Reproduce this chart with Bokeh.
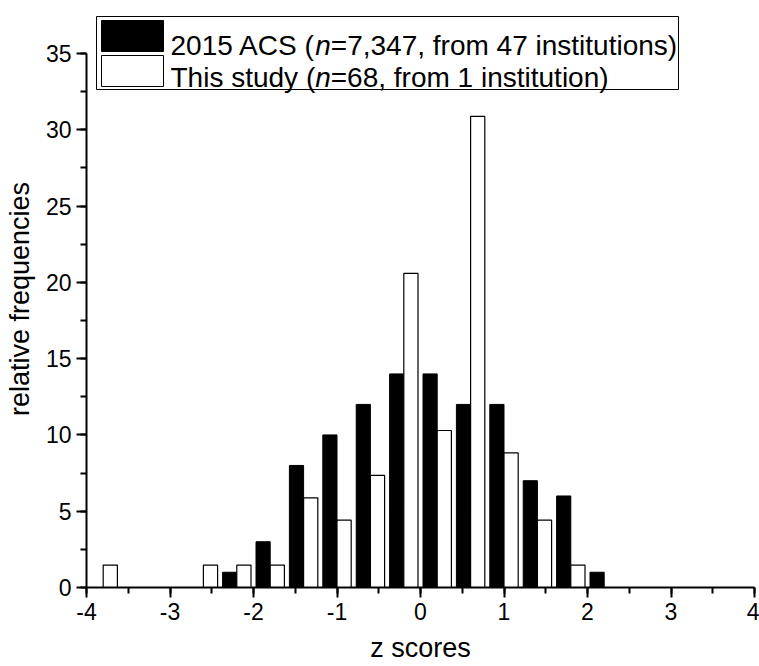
from bokeh.plotting import figure
from bokeh.models import (ColumnDataSource, Range1d, SingleIntervalTicker,
                          Label, BoxAnnotation, CustomJSTickFormatter)
from bokeh.transform import dodge
from bokeh.embed import file_html
from bokeh.resources import INLINE

# ---- data ----
acs_centers = [-2.2, -1.8, -1.4, -1.0, -0.6, -0.2, 0.2, 0.6, 1.0, 1.4, 1.8, 2.2]
acs_freq = [1, 3, 8, 10, 12, 14, 14, 12, 12, 7, 6, 1]
study_centers = [-3.8, -2.6, -2.2, -1.8, -1.4, -1.0, -0.6, -0.2, 0.2, 0.6, 1.0, 1.4, 1.8]
study_freq = [1.47, 1.47, 1.47, 1.47, 5.88, 4.41, 7.35, 20.59, 10.29, 30.88, 8.82, 4.41, 1.47]
acs_label = ["2015 ACS (", "n", "=7,347, from 47 institutions)"]
study_label = ["This study (", "n", "=68, from 1 institution)"]
x_title = "z scores"
y_title = "relative frequencies"

FONT = "Liberation Sans"

p = figure(width=759, height=666, output_backend="svg", toolbar_location=None,
           x_range=Range1d(-4, 4), y_range=Range1d(0, 37.82),
           min_border_left=86, min_border_right=5, min_border_top=10,
           min_border_bottom=79)
p.outline_line_color = None
p.xgrid.visible = False
p.ygrid.visible = False
p.background_fill_color = "white"
p.border_fill_color = "white"

src_acs = ColumnDataSource(dict(x=acs_centers, top=acs_freq))
src_study = ColumnDataSource(dict(x=study_centers, top=study_freq))

bw = 0.17
p.vbar(x=dodge("x", -bw / 2, range=p.x_range), top="top", width=bw, bottom=0,
       source=src_acs, fill_color="black", line_color="black", line_width=1)
p.vbar(x=dodge("x", bw / 2, range=p.x_range), top="top", width=bw, bottom=0,
       source=src_study, fill_color="white", line_color="black", line_width=1.2)

# ---- axes ----
p.xaxis.ticker = SingleIntervalTicker(interval=1, num_minor_ticks=2)
p.yaxis.ticker = SingleIntervalTicker(interval=5, num_minor_ticks=2)
p.xaxis.formatter = CustomJSTickFormatter(code="return String(tick);")
p.xaxis.bounds = (-4, 4)
p.yaxis.bounds = (0, 35)
p.xaxis.axis_label = x_title
p.yaxis.axis_label = y_title
for ax in (p.xaxis, p.yaxis):
    ax.axis_line_width = 2
    ax.axis_line_color = "black"
    ax.major_tick_line_width = 2
    ax.minor_tick_line_width = 2
    ax.major_tick_line_color = "black"
    ax.minor_tick_line_color = "black"
    ax.major_tick_out = 10
    ax.major_tick_in = 0
    ax.minor_tick_out = 6
    ax.minor_tick_in = 0
    ax.major_label_text_font = FONT
    ax.major_label_text_font_size = "23px"
    ax.major_label_text_color = "black"
    ax.axis_label_text_font = FONT
    ax.axis_label_text_font_size = "27px"
    ax.axis_label_text_font_style = "normal"
    ax.axis_label_text_color = "black"
p.xaxis.major_label_standoff = 5
p.yaxis.major_label_standoff = 5
p.xaxis.axis_label_standoff = 10
p.yaxis.axis_label_standoff = 8

# ---- legend drawn by hand (to allow the italic n) ----
CW = {"0": 556, "1": 556, "2": 556, "3": 556, "4": 556, "5": 556, "6": 556,
      "7": 556, "8": 556, "9": 556, " ": 278, "A": 667, "C": 722, "S": 667,
      "T": 611, "(": 333, ")": 333, "=": 584, ",": 278, "f": 278, "r": 333,
      "o": 556, "m": 833, "i": 222, "n": 556, "s": 500, "t": 278, "u": 556,
      "h": 556, "d": 556, "y": 500}
LS = 28


def tw(s):
    return sum(CW.get(c, 556) for c in s) * LS / 1000.0


def sbox(l, r, t, b, fill):
    return BoxAnnotation(left=l, right=r, top=t, bottom=b,
                         left_units="screen", right_units="screen",
                         top_units="screen", bottom_units="screen",
                         fill_color=fill, fill_alpha=1,
                         line_color="black", line_width=1, line_alpha=1)


p.add_layout(sbox(10, 592, 571, 498, "white"))
p.add_layout(sbox(15, 77, 567, 536, "black"))
p.add_layout(sbox(15, 77, 532, 501, "white"))

for parts, yb in ((acs_label, 542), (study_label, 510)):
    x0 = 84
    for i, part in enumerate(parts):
        p.add_layout(Label(x=x0, y=yb, x_units="screen", y_units="screen",
                           text=part, text_font=FONT,
                           text_font_size=f"{LS}px",
                           text_font_style="italic" if i == 1 else "normal",
                           text_color="black", text_baseline="alphabetic",
                           text_align="left"))
        x0 += tw(part)

open("out.html", "w").write(file_html(p, INLINE))
